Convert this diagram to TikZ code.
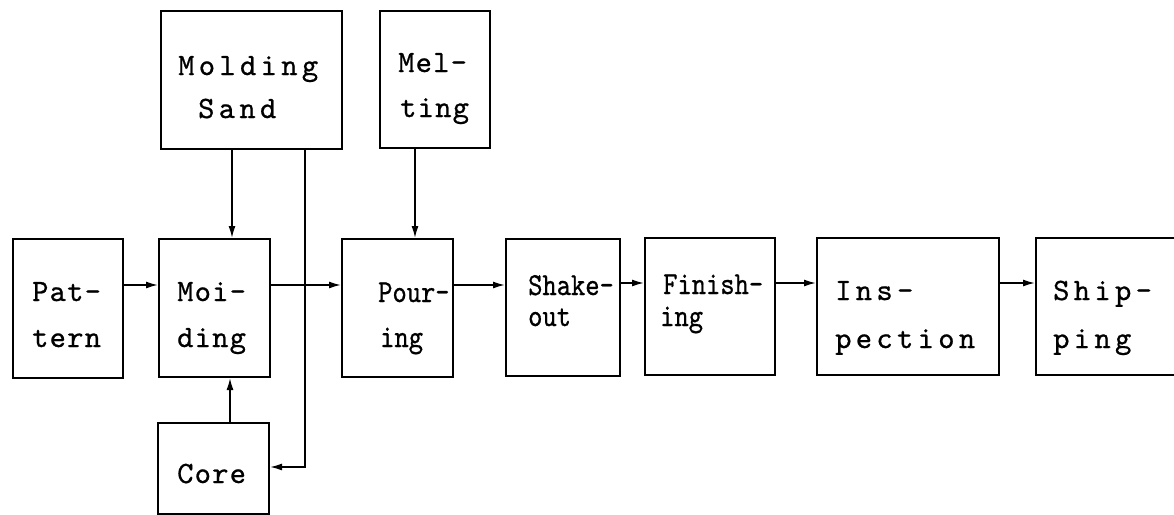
\documentclass[tikz,border=0pt]{standalone}
\usepackage{fontspec}
\usetikzlibrary{arrows.meta}
\newfontfamily\monoA[LetterSpace=4,FakeBold=0.7]{lmmono10-regular.otf}
\newfontfamily\monoW[LetterSpace=14,FakeBold=0.7]{lmmono10-regular.otf}
\newfontfamily\monoN[FakeStretch=0.85,FakeBold=0.7]{lmmono10-regular.otf}
\newcommand{\fA}{\monoA\fontsize{31}{31}\selectfont}
\newcommand{\fW}{\monoW\fontsize{31}{31}\selectfont}
\newcommand{\fN}{\monoN\fontsize{32}{32}\selectfont}
\tikzset{
  box/.style={draw=black, line width=2pt, inner sep=0pt, anchor=north west, fill=none},
  txt/.style={inner sep=0pt, anchor=base west, text=black},
  arr/.style={draw=black, line width=1.6pt, -{Latex[length=12pt,width=7pt]}},
}
\begin{document}
\begin{tikzpicture}[x=1pt,y=-1pt]
\useasboundingbox[fill=white] (0,0) rectangle (1174,514);
% boxes
\node[box, minimum width=110pt, minimum height=139pt] (pattern) at (12,238) {};
\node[box, minimum width=111pt, minimum height=138pt] (molding) at (158,238) {};
\node[box, minimum width=181pt, minimum height=138pt] (sand) at (160,10) {};
\node[box, minimum width=110pt, minimum height=137pt] (melting) at (379,10) {};
\node[box, minimum width=111pt, minimum height=91pt] (core) at (157,422) {};
\node[box, minimum width=111pt, minimum height=138pt] (pouring) at (341,238) {};
\node[box, minimum width=114pt, minimum height=137pt] (shakeout) at (505,238) {};
\node[box, minimum width=130pt, minimum height=137pt] (finishing) at (644,237) {};
\node[box, minimum width=182pt, minimum height=137pt] (inspection) at (816,237) {};
\node[box, minimum width=160pt, minimum height=137pt] (shipping) at (1035,237) {};
% texts
\node[txt] (t1a) at (32,301) {\fA Pat-};
\node[txt] (t1b) at (32,347) {\fA tern};
\node[txt] (t2a) at (177,301) {\fA Moi-};
\node[txt] (t2b) at (177,347) {\fA ding};
\node[txt] (t3a) at (178,75) {\fW Molding};
\node[txt] (t3b) at (198,118) {\fW Sand};
\node[txt] (t4a) at (398,72) {\fA Mel-};
\node[txt] (t4b) at (400,117) {\fA ting};
\node[txt] (t5) at (177,483) {\fA Core};
\node[txt] (t6a) at (378,302) {\fN Pour-};
\node[txt] (t6b) at (380,347) {\fN ing};
\node[txt] (t7a) at (528,295) {\fN Shake-};
\node[txt] (t7b) at (528,326) {\fN out};
\node[txt] (t8a) at (663,294) {\fN Finish-};
\node[txt] (t8b) at (660,326) {\fN ing};
\node[txt] (t9a) at (835,300) {\fW Ins-};
\node[txt] (t9b) at (835,348) {\fW pection};
\node[txt] (t10a) at (1053,300) {\fW Ship-};
\node[txt] (t10b) at (1053,348) {\fW ping};
% guide coordinates
\coordinate (ml) at (0,285);
\coordinate (ml2) at (0,283);
\coordinate (sx) at (232,0);
\coordinate (cx) at (230,0);
\coordinate (mx) at (415,0);
\coordinate (rx) at (305,0);
\coordinate (cy) at (0,467);
% connectors
\draw[arr] (pattern.east |- ml) -- (molding.west |- ml);
\draw[arr] (molding.east |- ml) -- (pouring.west |- ml);
\draw[arr] (pouring.east |- ml) -- (shakeout.west |- ml);
\draw[arr] (shakeout.east |- ml2) -- (finishing.west |- ml2);
\draw[arr] (finishing.east |- ml2) -- (inspection.west |- ml2);
\draw[arr] (inspection.east |- ml2) -- (shipping.west |- ml2);
\draw[arr] (sand.south -| sx) -- (molding.north -| sx);
\draw[arr] (melting.south -| mx) -- (pouring.north -| mx);
\draw[arr] (core.north -| cx) -- (molding.south -| cx);
\draw[arr] (sand.south -| rx) |- (core.east |- cy);
\end{tikzpicture}
\end{document}
